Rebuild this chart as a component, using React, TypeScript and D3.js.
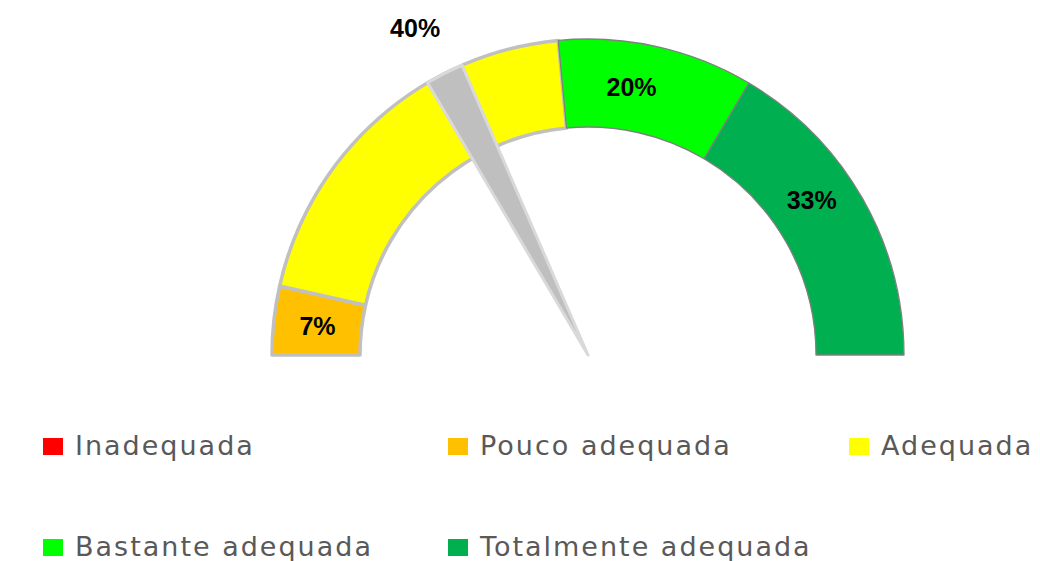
import React from "react";
import * as d3 from "d3";

const categories = ["Inadequada", "Pouco adequada", "Adequada", "Bastante adequada", "Totalmente adequada"];
const values = [0, 7, 40, 20, 33];
const colors = ["#ff0000", "#ffc000", "#ffff00", "#00ff00", "#00b050"];
const labels = ["", "7%", "40%", "20%", "33%"];
const needleValue = 35;
const needleWidth = 3.9;

const W = 1040;
const H = 561;
const cx = 588;
const cy = 355;
const rOuter = 316;
const rInner = 228;

export default function App() {
  const pie = d3
    .pie<number>()
    .sort(null)
    .startAngle(-Math.PI / 2)
    .endAngle(Math.PI / 2)
    .value((d) => d);
  const arcs = pie(values);
  const arcGen = d3.arc<any>().innerRadius(rInner).outerRadius(rOuter);
  const angle = d3.scaleLinear().domain([0, 100]).range([-Math.PI / 2, Math.PI / 2]);
  const needleArc = d3.arc<any>()({
    innerRadius: 0,
    outerRadius: rOuter,
    startAngle: angle(needleValue - needleWidth / 2),
    endAngle: angle(needleValue + needleWidth / 2),
  } as any);
  const needleMid = angle(needleValue) - 0.015;
  const needleLabelR = rOuter + 54;
  const labelR = (rInner + rOuter) / 2;

  const legendCols = [43, 448, 849];
  const legendRows = [455, 556];

  return (
    <svg
      width={W}
      height={H}
      style={{ position: "absolute", left: 0, top: 0 }}
      fontFamily="DejaVu Sans, sans-serif"
    >
      <rect width={W} height={H} fill="#ffffff" />
      <g transform={`translate(${cx},${cy})`}>
        {arcs.map((a, i) =>
          a.endAngle - a.startAngle > 0 ? (
            <path
              key={categories[i]}
              d={arcGen(a) || ""}
              fill={colors[i]}
              stroke={i <= 2 ? "#c0c0c0" : "#808080"}
              strokeWidth={i <= 2 ? 3.5 : 1.3}
              strokeLinejoin="round"
            />
          ) : null
        )}
        <path d={needleArc || ""} fill="#bfbfbf" stroke="#d9d9d9" strokeWidth={3} strokeLinejoin="round" />
        {arcs.map((a, i) => {
          if (!labels[i]) return null;
          let x: number, y: number;
          if (i === 2) {
            x = Math.sin(needleMid) * needleLabelR;
            y = -Math.cos(needleMid) * needleLabelR;
          } else {
            const mid = (a.startAngle + a.endAngle) / 2;
            const la = -Math.PI / 2 + (mid + Math.PI / 2) * 0.967;
            x = Math.sin(la) * labelR;
            y = -Math.cos(la) * labelR;
          }
          return (
            <text
              key={"l" + i}
              x={x}
              y={y}
              textAnchor="middle"
              dominantBaseline="central"
              fontWeight="bold"
              fontSize={25}
              fontFamily="Liberation Sans, Arial, sans-serif"
              fill="#000000"
            >
              {labels[i]}
            </text>
          );
        })}
      </g>
      {categories.map((c, i) => {
        const col = i % 3;
        const row = Math.floor(i / 3);
        const x = legendCols[col];
        const y = legendRows[row];
        return (
          <g key={"lg" + i}>
            <rect x={x} y={y - 17} width={20} height={17} fill={colors[i]} />
            <text x={x + 32} y={y} fontSize={27} fill="#595959" letterSpacing={2}>
              {c}
            </text>
          </g>
        );
      })}
    </svg>
  );
}
